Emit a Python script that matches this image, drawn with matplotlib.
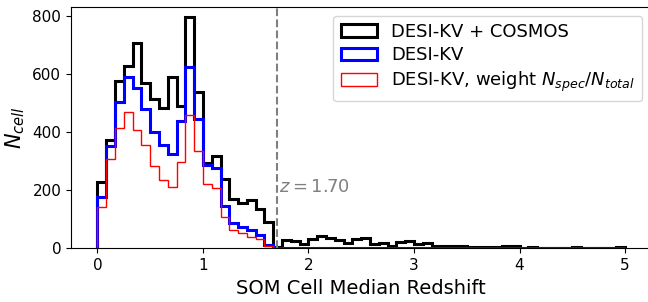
import numpy as np
import matplotlib
matplotlib.use("Agg")
import matplotlib.pyplot as plt

# bin edges: 60 bins between 0 and 5
edges = np.linspace(0, 5, 61)

# counts
n_all = [229, 372, 575, 627, 707, 567, 514, 482, 590, 490,
         795, 539, 292, 318, 238, 170, 155, 166, 134, 89,
         5, 30, 25, 13, 33, 41, 34, 27, 19, 31,
         34, 16, 17, 9, 20, 26, 15, 19, 9, 9,
         7, 7, 5, 3, 3, 3, 6, 6, 2, 5,
         2, 2, 2, 2, 5, 2, 2, 2, 1, 4]
n_kv = [175, 350, 502, 590, 552, 478, 399, 355, 324, 438,
        625, 445, 286, 277, 146, 86, 74, 63, 46, 11,
        2, 2, 1, 1, 2, 1, 1, 1, 1, 1,
        1, 1, 1, 1, 1, 1, 1, 1, 1, 1,
        1, 1, 1, 1, 1, 1, 1, 1, 1, 1,
        1, 1, 1, 1, 1, 1, 1, 1, 1, 1]
n_weighted = [141, 306, 413, 470, 405, 355, 284, 235, 210, 295,
              457, 335, 221, 206, 107, 63, 52, 38, 31, 8,
              1, 1, 0.5, 0.5, 1, 0.5, 0.5, 0.5, 0.5, 0.5,
              0.5, 0.5, 0.5, 0.5, 0.5, 0.5, 0.5, 0.5, 0.5, 0.5,
              0.5, 0.5, 0.5, 0.5, 0.5, 0.5, 0.5, 0.5, 0.5, 0.5,
              0.5, 0.5, 0.5, 0.5, 0.5, 0.5, 0.5, 0.5, 0.5, 0.5]
z_cut = 1.70

centers = 0.5 * (edges[1:] + edges[:-1])

fig = plt.figure(figsize=(6.48, 3.02), dpi=100)
ax = fig.add_axes([0.1096, 0.178, 0.8957, 0.8])

ax.hist(centers, bins=edges, weights=n_all, histtype="step", color="black", lw=2.2, label="DESI-KV + COSMOS")
ax.hist(centers, bins=edges, weights=n_kv, histtype="step", color="blue", lw=2.2, label="DESI-KV")
ax.hist(centers, bins=edges, weights=n_weighted, histtype="step", color="red", lw=1, label=r"DESI-KV, weight $N_{spec}/N_{total}$")

ax.axvline(z_cut, color="gray", ls="--", lw=1.5)
ax.text(z_cut + 0.02, 195, r"$z = %.2f$" % z_cut, color="gray", fontsize=13)

ax.set_xlim(-0.25, 5.25)
ax.set_ylim(0, 831)
ax.set_yticks([0, 200, 400, 600, 800])
ax.tick_params(labelsize=11)
ax.set_xlabel("SOM Cell Median Redshift", fontsize=14)
ax.set_ylabel(r"$N_{cell}$", fontsize=15)
ax.legend(loc="upper right", fontsize=13, labelspacing=0.3)

fig.savefig("out.png", dpi=100)
